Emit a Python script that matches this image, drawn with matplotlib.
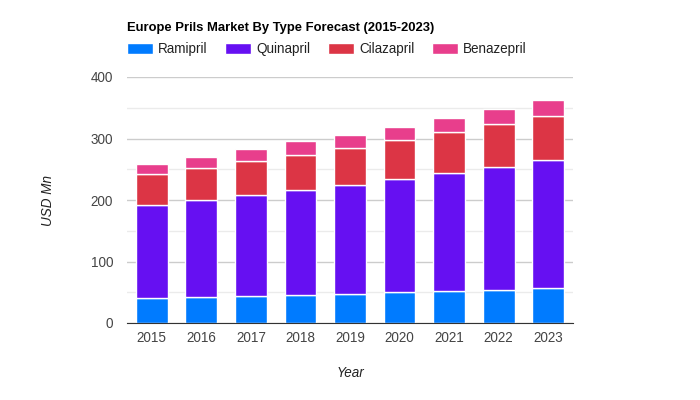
import numpy as np
import matplotlib.pyplot as plt
from matplotlib.ticker import MultipleLocator

plt.rcParams['font.family'] = ['Liberation Sans', 'DejaVu Sans']

# data (USD Mn)
years = ['2015', '2016', '2017', '2018', '2019', '2020', '2021', '2022', '2023']
ramipril = [40.6, 42.3, 43.9, 45.5, 47.2, 50.4, 52.0, 53.7, 56.9]
quinapril = [150.7, 157.7, 163.7, 170.8, 176.6, 183.7, 191.9, 200.0, 208.1]
cilazapril = [51.0, 52.0, 55.8, 56.9, 60.8, 63.5, 66.7, 69.9, 71.0]
benazepril = [16.7, 18.5, 19.0, 22.2, 21.6, 21.6, 23.3, 24.9, 27.1]

series = [('Ramipril', ramipril, '#007bff'),
          ('Quinapril', quinapril, '#6610f2'),
          ('Cilazapril', cilazapril, '#dc3545'),
          ('Benazepril', benazepril, '#e83e8c')]

fig = plt.figure(figsize=(7, 4), dpi=100)
ax = fig.add_axes([127/700, (400-323)/400, (573-127)/700, (323-77)/400])

x = np.arange(len(years))
bottom = np.zeros(len(years))
for name, vals, color in series:
    ax.bar(x, vals, width=0.64, bottom=bottom, color=color, label=name,
           edgecolor='white', linewidth=1, zorder=3)
    bottom += np.array(vals)

ax.set_xlim(-0.5, len(years) - 0.5)
ax.set_ylim(0, 400)
ax.set_xticks(x)
ax.set_xticklabels(years)
ax.yaxis.set_major_locator(MultipleLocator(100))
ax.yaxis.set_minor_locator(MultipleLocator(50))
ax.grid(axis='y', which='major', color='#cccccc', linewidth=1, zorder=0)
ax.grid(axis='y', which='minor', color='#ebebeb', linewidth=1, zorder=0)
ax.tick_params(axis='both', which='both', length=0, labelsize=9.75, colors='#444444')
ax.tick_params(axis='y', pad=10)
ax.tick_params(axis='x', pad=6)
for s in ['top', 'right', 'left']:
    ax.spines[s].set_visible(False)
ax.spines['bottom'].set_color('#333333')
ax.spines['bottom'].set_zorder(4)

ax.set_ylabel('USD Mn', fontstyle='italic', fontsize=9.75, color='#222222', labelpad=26)
ax.set_xlabel('Year', fontstyle='italic', fontsize=9.75, color='#222222', labelpad=15)

fig.text(127/700, 1 - 27.5/400, 'Europe Prils Market By Type Forecast (2015-2023)',
         fontsize=9.4, fontweight='bold', color='#000000', va='center', ha='left')

fig.legend(loc='center left', bbox_to_anchor=(127/700, 1 - 49.5/400), ncol=4,
           frameon=False, fontsize=9.75, handlelength=1.9, handleheight=0.9,
           handletextpad=0.4, columnspacing=1.3, borderpad=0, borderaxespad=0,
           labelcolor='#222222')

fig.savefig('out.png', dpi=100)
